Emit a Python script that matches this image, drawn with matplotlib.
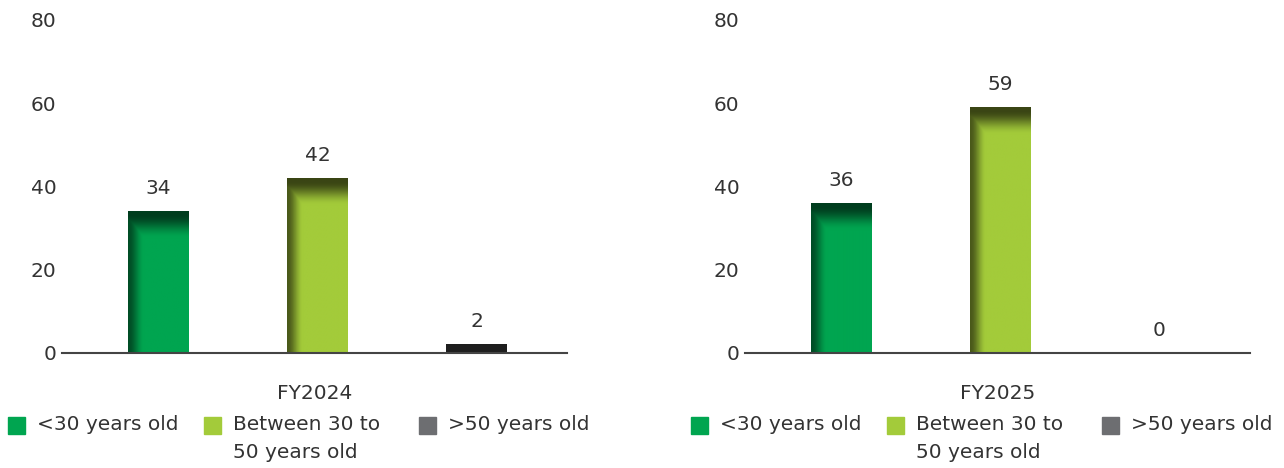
import numpy as np
import matplotlib.pyplot as plt
from matplotlib.colors import to_rgb
from matplotlib.patches import Rectangle

periods = ['FY2024', 'FY2025']
groups = ['<30 years old', 'Between 30 to\n50 years old', '>50 years old']
values = {
    'FY2024': [34, 42, 2],
    'FY2025': [36, 59, 0],
}
bar_colors = ['#00a550', '#a3cb3a', '#2a2a2a']
dark_colors = ['#003d1e', '#3a4514', '#1e1e1e']
legend_colors = ['#00a550', '#a3cb3a', '#6d6e71']
text_color = '#333333'

W, H = 1284, 468
fig = plt.figure(figsize=(W / 100, H / 100), dpi=100)

# axes boxes in pixels (left, right), bottom line at y=353, 80 at y=20
boxes = [(62, 567), (745, 1250)]
y_bot, y_top = 353, 20
px_per_unit = (y_bot - y_top) / 80
bar_px = 159  # pixel distance between bar centres


def shaded(ax, patch, base, dark):
    x0, w, h = patch.get_x(), patch.get_width(), patch.get_height()
    if h <= 0:
        return
    rows, cols = 300, 80
    yy = np.linspace(h, 0, rows)[:, None]          # data y, top first
    xx = np.linspace(0, w, cols)[None, :]
    dtop = (h - yy) * px_per_unit                   # px from top
    dleft = xx * bar_px                             # px from left
    t = np.clip((dtop - 3) / 24, 0, 1)
    a_top = 1 - t * t * (3 - 2 * t)
    s = np.clip(dleft / 16, 0, 1)
    a_left = 0.85 * (1 - s * s * (3 - 2 * s))
    a = np.maximum(a_top, a_left)[..., None]
    img = np.array(to_rgb(base)) * (1 - a) + np.array(to_rgb(dark)) * a
    ax.imshow(img, extent=(x0, x0 + w, 0, h), aspect='auto',
              interpolation='bilinear', zorder=2)


for (l, r), period in zip(boxes, periods):
    ax = fig.add_axes([l / W, (H - y_bot) / H, (r - l) / W, (y_bot - y_top) / H])
    x = np.arange(len(groups))
    bars = ax.bar(x, values[period], width=61 / bar_px, color=bar_colors, zorder=1)
    for p, b, d in zip(bars, bar_colors, dark_colors):
        shaded(ax, p, b, d)
    for xi, v in zip(x, values[period]):
        ax.annotate(str(v), (xi, v), xytext=(0, 23), textcoords='offset pixels',
                    ha='center', va='center', fontsize=14.5, color=text_color)
    ax.set_xlim((l - (l + 96.5)) / bar_px, (r - (l + 96.5)) / bar_px)
    ax.set_ylim(0, 80)
    ax.set_yticks([0, 20, 40, 60, 80])
    ax.set_xticks([])
    ax.tick_params(axis='y', length=0, pad=4, labelsize=14.5, labelcolor=text_color)
    for s in ['top', 'right', 'left']:
        ax.spines[s].set_visible(False)
    ax.spines['bottom'].set_color('#444444')
    ax.spines['bottom'].set_linewidth(1.5)
    ax.spines['bottom'].set_zorder(3)
    ax.set_xlabel(period, fontsize=14.5, color=text_color, labelpad=22)

    # legend below each panel
    for off, label, c in zip([-54, 142, 357], groups, legend_colors):
        sx = l + off
        fig.patches.append(Rectangle((sx / W, (H - 434) / H), 17 / W, 17 / H,
                                     transform=fig.transFigure, color=c))
        multi = '\n' in label
        ty = (H - 415) / H if multi else (H - 425) / H
        fig.text((sx + 29) / W, ty, label, fontsize=14.5, color=text_color,
                 ha='left', va='top' if multi else 'center', linespacing=1.6)

fig.savefig('out.png', dpi=100)
